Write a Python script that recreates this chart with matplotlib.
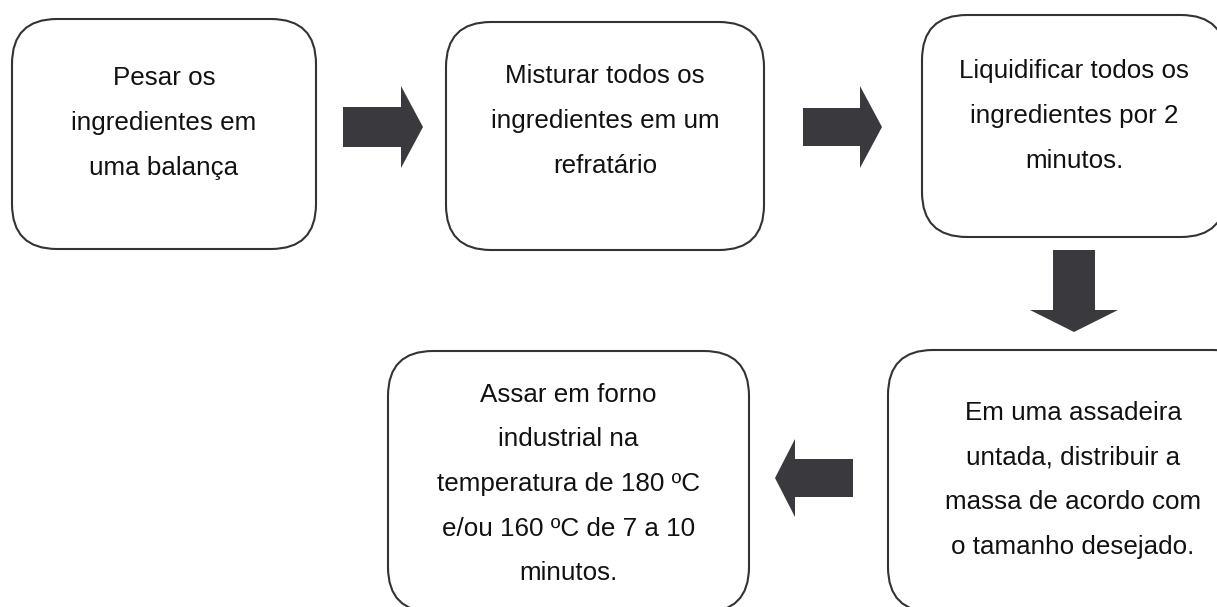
import matplotlib
matplotlib.use("Agg")
import matplotlib.pyplot as plt
from matplotlib.patches import FancyBboxPatch, Polygon

plt.rcParams["font.family"] = ["Liberation Sans", "DejaVu Sans"]

# step texts of the flowchart
steps = [
    ["Pesar os", "ingredientes em", "uma balança"],
    ["Misturar todos os", "ingredientes em um", "refratário"],
    ["Liquidificar todos os", "ingredientes por 2", "minutos."],
    ["Assar em forno", "industrial na", "temperatura de 180 ºC", "e/ou 160 ºC de 7 a 10", "minutos."],
    ["Em uma assadeira", "untada, distribuir a", "massa de acordo com", "o tamanho desejado."],
]

# layout (pixels, y downwards): x0, y0, x1, y1
box_pos = [
    (12, 19, 316, 249),
    (446, 22, 764, 250),
    (922, 15, 1226, 237),
    (388, 351, 749, 612),
    (888, 350, 1258, 612),
]
text_cy = [123, 121, 116, 484, 480]

# block arrows: direction, shaft (x0, y0, x1, y1), head length, head half width
arrows = [
    ("right", (343, 107, 401, 147), 22, 41),
    ("right", (803, 108, 860, 146), 22, 41),
    ("down", (1053, 250, 1095, 310), 22, 44),
    ("left", (795, 459, 853, 497), 20, 39),
]

W, H = 1217, 607
fig = plt.figure(figsize=(W / 100, H / 100), dpi=100)
ax = fig.add_axes([0, 0, 1, 1])
ax.set_xlim(0, W)
ax.set_ylim(H, 0)
ax.axis("off")

edge = "#333333"
fill = "#3a393e"

for (x0, y0, x1, y1), lines, cy in zip(box_pos, steps, text_cy):
    box = FancyBboxPatch((x0, y0), x1 - x0, y1 - y0,
                         boxstyle="round,pad=0,rounding_size=45",
                         facecolor="white", edgecolor=edge, linewidth=1.5)
    ax.add_patch(box)
    ax.text((x0 + x1) / 2, cy, "\n".join(lines), ha="center", va="center",
            multialignment="center", fontsize=18.7,
            color="#111111", linespacing=2.08)

for direction, (x0, y0, x1, y1), hl, hw in arrows:
    if direction == "right":
        cy = (y0 + y1) / 2
        pts = [(x0, y0), (x1, y0), (x1, cy - hw), (x1 + hl, cy),
               (x1, cy + hw), (x1, y1), (x0, y1)]
    elif direction == "left":
        cy = (y0 + y1) / 2
        pts = [(x1, y0), (x0, y0), (x0, cy - hw), (x0 - hl, cy),
               (x0, cy + hw), (x0, y1), (x1, y1)]
    else:
        cx = (x0 + x1) / 2
        pts = [(x0, y0), (x1, y0), (x1, y1), (cx + hw, y1), (cx, y1 + hl),
               (cx - hw, y1), (x0, y1)]
    ax.add_patch(Polygon(pts, closed=True, facecolor=fill, edgecolor="none"))

fig.savefig("out.png", dpi=100, facecolor="white")
